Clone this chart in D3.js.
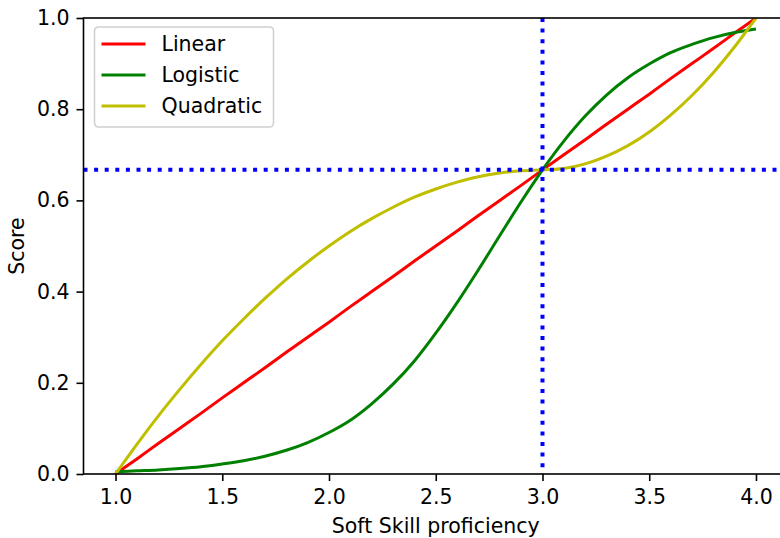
<!DOCTYPE html>
<html>
<head>
<meta charset="utf-8">
<script src="https://cdn.jsdelivr.net/npm/d3@7"></script>
<style>
  html, body { margin: 0; padding: 0; background: #fff; }
  svg text { font-family: "DejaVu Sans", sans-serif; fill: #000; }
</style>
</head>
<body>
<div id="chart"></div>
<script>
// sample positions along the x axis
const skill = [1.0, 1.1, 1.2, 1.3, 1.4, 1.5, 1.6, 1.7, 1.8, 1.9, 2.0,
  2.1, 2.2, 2.3, 2.4, 2.5, 2.6, 2.7, 2.8, 2.9, 3.0,
  3.1, 3.2, 3.3, 3.4, 3.5, 3.6, 3.7, 3.8, 3.9, 4.0];

const linearScore = [0.000, 0.033, 0.067, 0.100, 0.133, 0.167, 0.200, 0.233, 0.267, 0.300, 0.333,
  0.367, 0.400, 0.433, 0.467, 0.500, 0.533, 0.567, 0.600, 0.633, 0.667,
  0.700, 0.733, 0.767, 0.800, 0.833, 0.867, 0.900, 0.933, 0.967, 1.000];

const logisticScore = [0.005, 0.007, 0.009, 0.012, 0.016, 0.022, 0.029, 0.039, 0.052, 0.069, 0.091,
  0.118, 0.154, 0.197, 0.248, 0.309, 0.376, 0.448, 0.523, 0.597, 0.667,
  0.730, 0.785, 0.831, 0.869, 0.899, 0.924, 0.942, 0.957, 0.968, 0.976];

const quadraticScore = [0.000, 0.065, 0.127, 0.185, 0.240, 0.292, 0.340, 0.385, 0.427, 0.465, 0.500,
  0.532, 0.560, 0.585, 0.607, 0.625, 0.640, 0.652, 0.660, 0.665, 0.667,
  0.670, 0.680, 0.697, 0.720, 0.750, 0.787, 0.830, 0.880, 0.937, 1.000];

const seriesNames = ["Linear", "Logistic", "Quadratic"];
const seriesColours = ["#ff0000", "#008000", "#bfbf00"];
const seriesValues = [linearScore, logisticScore, quadraticScore];

const xTicks = [1.0, 1.5, 2.0, 2.5, 3.0, 3.5, 4.0];
const yTicks = [0.0, 0.2, 0.4, 0.6, 0.8, 1.0];
const xDomain = [0.85, 4.15];
const yDomain = [0, 1];

// reference marks
const markX = 3.0;
const markY = 0.667;

const width = 780;
const height = 538;
const margin = { top: 18, right: -8, bottom: 64, left: 83.5 };
const innerWidth = width - margin.left - margin.right;
const innerHeight = height - margin.top - margin.bottom;
const fontSize = "20.5px";

const svg = d3.select("#chart")
  .append("svg")
  .attr("width", width)
  .attr("height", height);

const chartArea = svg.append("g")
  .attr("transform", `translate(${margin.left},${margin.top})`);

const scaleX = d3.scaleLinear().domain(xDomain).range([0, innerWidth]);
const scaleY = d3.scaleLinear().domain(yDomain).range([innerHeight, 0]);

svg.append("defs").append("clipPath")
  .attr("id", "plot-clip")
  .append("rect")
  .attr("width", innerWidth)
  .attr("height", innerHeight);

const plot = chartArea.append("g").attr("clip-path", "url(#plot-clip)");

const lineGen = d3.line()
  .x((d, i) => scaleX(skill[i]))
  .y((d) => scaleY(d))
  .curve(d3.curveCatmullRom.alpha(0.5));

plot.selectAll(".line")
  .data(seriesValues)
  .join("path")
  .attr("class", "line")
  .attr("fill", "none")
  .attr("stroke", (d, i) => seriesColours[i])
  .attr("stroke-width", 3)
  .attr("d", lineGen);

// dotted guide lines
plot.append("line")
  .attr("x1", scaleX(markX)).attr("x2", scaleX(markX))
  .attr("y1", 0).attr("y2", innerHeight)
  .attr("stroke", "#0000ff")
  .attr("stroke-width", 4)
  .attr("stroke-dasharray", "4,6.6");

plot.append("line")
  .attr("x1", 0).attr("x2", innerWidth)
  .attr("y1", scaleY(markY)).attr("y2", scaleY(markY))
  .attr("stroke", "#0000ff")
  .attr("stroke-width", 4)
  .attr("stroke-dasharray", "4,6.6");

// axes
const xAxis = chartArea.append("g")
  .attr("transform", `translate(0,${innerHeight})`)
  .call(d3.axisBottom(scaleX).tickValues(xTicks).tickFormat(d3.format(".1f"))
    .tickSizeInner(7).tickSizeOuter(0).tickPadding(8));

const yAxis = chartArea.append("g")
  .call(d3.axisLeft(scaleY).tickValues(yTicks).tickFormat(d3.format(".1f"))
    .tickSizeInner(7).tickSizeOuter(0).tickPadding(7));

[xAxis, yAxis].forEach((ax) => {
  ax.select(".domain").remove();
  ax.selectAll(".tick line").attr("stroke", "#000").attr("stroke-width", 1.6);
  ax.selectAll(".tick text")
    .style("font-size", fontSize)
    .style("font-family", "DejaVu Sans, sans-serif")
    .attr("fill", "#000");
});

// spines
chartArea.append("rect")
  .attr("x", 0).attr("y", 0)
  .attr("width", innerWidth).attr("height", innerHeight)
  .attr("fill", "none")
  .attr("stroke", "#000")
  .attr("stroke-width", 1.6);

// axis labels
svg.append("text")
  .attr("x", margin.left + innerWidth / 2)
  .attr("y", 533)
  .attr("text-anchor", "middle")
  .style("font-size", fontSize)
  .text("Soft Skill proficiency");

svg.append("text")
  .attr("transform", `translate(24,${margin.top + innerHeight / 2}) rotate(-90)`)
  .attr("text-anchor", "middle")
  .style("font-size", fontSize)
  .text("Score");

// legend
const legend = chartArea.append("g").attr("transform", "translate(11,9)");

legend.append("rect")
  .attr("width", 179)
  .attr("height", 100)
  .attr("rx", 4)
  .attr("fill", "#fff")
  .attr("fill-opacity", 0.8)
  .attr("stroke", "#d0d0d0")
  .attr("stroke-width", 1.6);

const rows = legend.selectAll(".legend-row")
  .data(seriesNames)
  .join("g")
  .attr("class", "legend-row")
  .attr("transform", (d, i) => `translate(0,${17 + i * 31})`);

rows.append("line")
  .attr("x1", 7).attr("x2", 51)
  .attr("stroke", (d, i) => seriesColours[i])
  .attr("stroke-width", 3);

rows.append("text")
  .attr("x", 67)
  .attr("dy", "0.35em")
  .style("font-size", fontSize)
  .text((d) => d);
</script>
</body>
</html>
